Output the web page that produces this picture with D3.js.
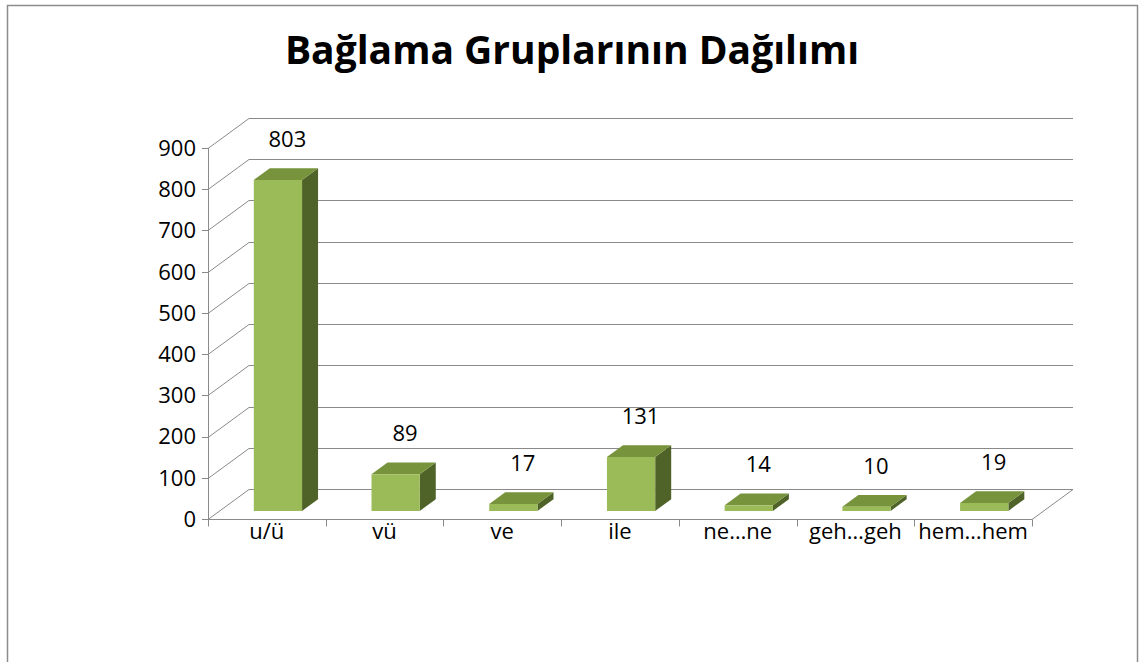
<!DOCTYPE html>
<html>
<head>
<meta charset="utf-8">
<script src="https://cdn.jsdelivr.net/npm/d3@7"></script>
<style>
  body { margin: 0; background: #fff; }
  text { font-family: "Open Sans", "Liberation Sans", Arial, sans-serif; fill: #000; }
</style>
</head>
<body>
<div id="chart"></div>
<script>
// chart data
var categories = ["u/ü", "vü", "ve", "ile", "ne…ne", "geh…geh", "hem…hem"];
var values = [803, 89, 17, 131, 14, 10, 19];
var yTicks = [0, 100, 200, 300, 400, 500, 600, 700, 800, 900];
var title = "Bağlama Gruplarının Dağılımı";

var svgWidth = 1140;
var svgHeight = 662;

// front plane of the 3d plot and its depth offset
var plot = { left: 208, right: 1032, top: 148, bottom: 519 };
var depth = { dx: 41, dy: -30 };

var svg = d3.select("#chart").append("svg")
  .attr("width", svgWidth)
  .attr("height", svgHeight);

svg.append("rect")
  .attr("x", 7.5).attr("y", 5.5)
  .attr("width", 1130).attr("height", 700)
  .attr("fill", "#fff")
  .attr("stroke", "#8c8c8c")
  .attr("stroke-width", 1.5);

var xScale = d3.scaleBand().domain(categories).range([plot.left, plot.right]);
var yScale = d3.scaleLinear().domain([0, 900]).range([plot.bottom, plot.top]);

// project (x, y on front plane, depth z 0..1) to screen
function proj(x, y, z) {
  return [x + z * depth.dx, y + z * depth.dy];
}

var gridColor = "#8a8a8a";
var grid = svg.append("g").attr("stroke", gridColor).attr("stroke-width", 1).attr("fill", "none");

// back wall lines and left wall diagonals
yTicks.forEach(function(t) {
  var y = Math.round(yScale(t)) + 0.5;
  var a = proj(plot.left, y, 1);
  var b = proj(plot.right, y, 1);
  grid.append("line").attr("x1", a[0]).attr("y1", a[1]).attr("x2", b[0]).attr("y2", b[1]);
  grid.append("line").attr("x1", plot.left).attr("y1", y).attr("x2", a[0]).attr("y2", a[1]);
});

// floor front edge and right edge
var fy = Math.round(yScale(0)) + 0.5;
var fr = proj(plot.right, fy, 1);
grid.append("line").attr("x1", plot.left).attr("y1", fy).attr("x2", plot.right).attr("y2", fy);
grid.append("line").attr("x1", plot.right).attr("y1", fy).attr("x2", fr[0]).attr("y2", fr[1]);

// y axis line and ticks
grid.append("line").attr("x1", plot.left + 0.5).attr("y1", plot.top).attr("x2", plot.left + 0.5).attr("y2", fy);
yTicks.forEach(function(t) {
  var y = Math.round(yScale(t)) + 0.5;
  grid.append("line").attr("x1", plot.left - 6).attr("y1", y).attr("x2", plot.left).attr("y2", y);
});

// category ticks
var edges = categories.map(function(c) { return xScale(c); }).concat([plot.right]);
edges.forEach(function(x) {
  var xx = Math.round(x) + 0.5;
  grid.append("line").attr("x1", xx).attr("y1", fy).attr("x2", xx).attr("y2", fy + 7);
});

// y tick labels
svg.append("g").selectAll("text").data(yTicks).enter()
  .append("text")
  .attr("x", 196)
  .attr("y", function(d) { return yScale(d); })
  .attr("dy", "0.36em")
  .attr("text-anchor", "end")
  .attr("font-size", 22)
  .text(function(d) { return d; });

// category labels
svg.append("g").selectAll("text").data(categories).enter()
  .append("text")
  .attr("x", function(d) { return xScale(d) + xScale.bandwidth() / 2; })
  .attr("y", 531)
  .attr("dy", "0.36em")
  .attr("text-anchor", "middle")
  .attr("font-size", 22)
  .text(function(d) { return d; });

// bars
var barW = xScale.bandwidth() * 0.41;
var z0 = 0.27, z1 = 0.66;
var bars = svg.append("g");

values.forEach(function(v, i) {
  var cx = xScale(categories[i]) + xScale.bandwidth() / 2;
  var xl = cx - barW / 2, xr = cx + barW / 2;
  var yb = yScale(0), yt = yScale(v);
  var p = function(x, y, z) { return proj(x, y, z).join(","); };

  // right side
  bars.append("polygon")
    .attr("points", [p(xr, yb, z0), p(xr, yb, z1), p(xr, yt, z1), p(xr, yt, z0)].join(" "))
    .attr("fill", "#4f6228");
  // top
  bars.append("polygon")
    .attr("points", [p(xl, yt, z0), p(xr, yt, z0), p(xr, yt, z1), p(xl, yt, z1)].join(" "))
    .attr("fill", "#77933c");
  // front
  bars.append("polygon")
    .attr("points", [p(xl, yb, z0), p(xr, yb, z0), p(xr, yt, z0), p(xl, yt, z0)].join(" "))
    .attr("fill", "#9bbb59");

  // data label
  var lp = proj(cx, yt, 0.5);
  bars.append("text")
    .attr("x", lp[0])
    .attr("y", lp[1] - 34)
    .attr("dy", "0.36em")
    .attr("text-anchor", "middle")
    .attr("font-size", 22)
    .text(v);
});

// title
svg.append("text")
  .attr("x", 572)
  .attr("y", 64)
  .attr("text-anchor", "middle")
  .attr("font-size", 39)
  .attr("font-weight", "bold")
  .text(title);
</script>
</body>
</html>
